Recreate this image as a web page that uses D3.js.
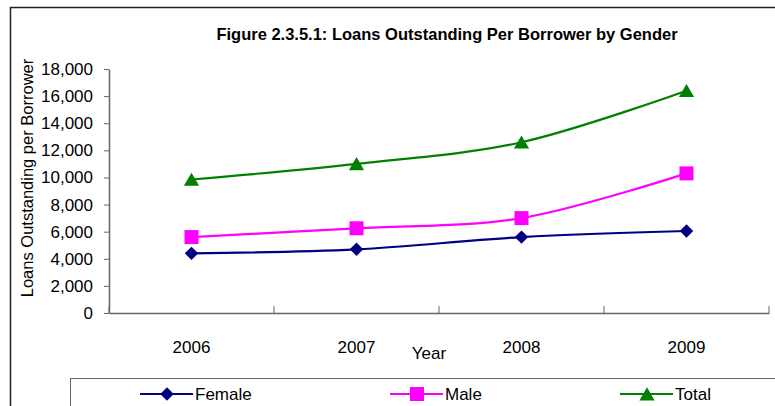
<!DOCTYPE html>
<html><head><meta charset="utf-8">
<script src="https://cdn.jsdelivr.net/npm/d3@7"></script>
<style>body{margin:0;background:#fff;} svg{display:block;font-family:"Liberation Sans Narrow","Liberation Sans",Arial,sans-serif;}</style>
</head><body>
<svg id="c" width="775" height="406"></svg>
<script>
const years = ["2006","2007","2008","2009"];
const female = [4400, 4700, 5600, 6050];
const male = [5600, 6250, 7000, 10300];
const total = [9850, 11000, 12600, 16400];
const yTicks = [0,2000,4000,6000,8000,10000,12000,14000,16000,18000];
const seriesNames = ["Female","Male","Total"];
const seriesColors = ["#000080","#FF00FF","#008000"];

(function(){
const NF = "Liberation Sans Narrow, Liberation Sans, Arial, sans-serif";
const svg = d3.select("#c");
svg.append("rect").attr("x",10.5).attr("y",7.5).attr("width",800).attr("height",420)
  .attr("fill","#fff").attr("stroke","#222").attr("stroke-width",1.5);

const pL=109, pR=769, pT=69, pB=313;
const x = d3.scaleBand().domain(years).range([pL,pR]).padding(0);
const y = d3.scaleLinear().domain([0,18000]).range([pB,pT]);

svg.append("text").attr("x",447).attr("y",40).attr("text-anchor","middle")
  .attr("font-size",16.5).attr("font-weight","bold").attr("fill","#000")
  .attr("font-family","Liberation Sans, Arial, sans-serif")
  .text("Figure 2.3.5.1: Loans Outstanding Per Borrower by Gender");

const ya = svg.append("g").attr("transform",`translate(${pL},0)`)
  .call(d3.axisLeft(y).tickValues(yTicks).tickFormat(d3.format(",")).tickSize(5).tickSizeOuter(0));
ya.select(".domain").attr("stroke","#666").attr("stroke-width",1.5);
ya.selectAll(".tick line").attr("stroke","#666");
ya.selectAll(".tick text").attr("font-size",17).attr("fill","#000").attr("x",-16).attr("font-family",NF);

const xa = svg.append("g").attr("transform",`translate(0,${pB})`)
  .call(d3.axisBottom(x).tickSize(0).tickSizeOuter(0));
xa.select(".domain").attr("stroke","#666").attr("stroke-width",1.5);
xa.selectAll(".tick text").attr("font-size",17).attr("fill","#000").attr("dy",0).attr("y",40).attr("font-family",NF);
const bounds = years.map(d=>x(d)+x.bandwidth()).concat([x(years[0])]);
svg.selectAll(".bt").data(bounds).enter().append("line")
  .attr("x1",d=>d).attr("x2",d=>d).attr("y1",pB).attr("y2",pB-7)
  .attr("stroke","#666").attr("stroke-width",1);

svg.append("text").attr("x",429).attr("y",359).attr("text-anchor","middle")
  .attr("font-size",17).attr("fill","#000").text("Year");
svg.append("text").attr("transform","translate(33,178) rotate(-90)").attr("text-anchor","middle")
  .attr("font-size",16.5).attr("fill","#000").text("Loans Outstanding per Borrower");

const data = [female, male, total];
const line = d3.line().x((d,i)=>x(years[i])+x.bandwidth()/2).y(d=>y(d)).curve(d3.curveCatmullRom.alpha(0));
function marker(sel,k){
  if(k===0) sel.attr("d",d3.symbol().type(d3.symbolSquare).size(90)()).attr("transform",function(){return d3.select(this).attr("transform")+" rotate(45)";});
  else if(k===1) sel.attr("d",d3.symbol().type(d3.symbolSquare).size(196)());
  else sel.attr("d",d3.symbol().type(d3.symbolTriangle).size(100)());
  sel.attr("fill",seriesColors[k]);
}
const off = [0,0,2];
data.forEach((vals,k)=>{
  svg.append("path").attr("d",line(vals)).attr("fill","none")
    .attr("stroke",seriesColors[k]).attr("stroke-width",2.2);
  const m = svg.selectAll(".m"+k).data(vals).enter().append("path")
    .attr("transform",(d,i)=>`translate(${x(years[i])+x.bandwidth()/2},${y(d)+off[k]})`);
  marker(m,k);
});

svg.append("rect").attr("x",70.5).attr("y",378.5).attr("width",720).attr("height",40)
  .attr("fill","#fff").attr("stroke","#666").attr("stroke-width",1);
const lx = [140, 390, 620];
seriesNames.forEach((n,k)=>{
  const g = svg.append("g").attr("transform",`translate(${lx[k]},394)`);
  g.append("line").attr("x1",0).attr("x2",53).attr("stroke",seriesColors[k]).attr("stroke-width",2.2);
  const m = g.append("path").attr("transform",`translate(27,${off[k]})`);
  marker(m,k);
  g.append("text").attr("x",55).attr("y",6).attr("font-size",17).attr("fill","#000").text(n);
});
})();
</script>
</body></html>
